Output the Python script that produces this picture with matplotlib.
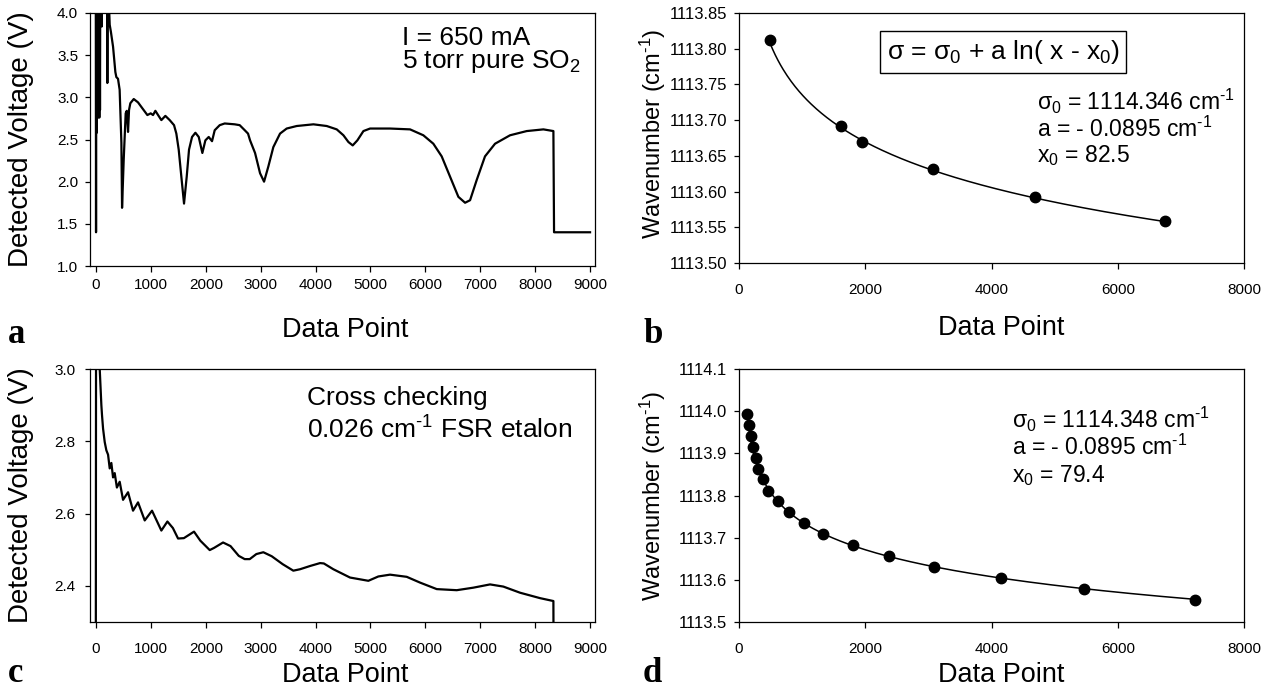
import numpy as np
import matplotlib
matplotlib.use('Agg')
import matplotlib.pyplot as plt

plt.rcParams['font.family'] = ['Liberation Sans', 'DejaVu Sans']
plt.rcParams['mathtext.fontset'] = 'custom'
plt.rcParams['mathtext.rm'] = 'Liberation Sans'
plt.rcParams['mathtext.it'] = 'Liberation Sans'
plt.rcParams['mathtext.default'] = 'regular'

# panel a: detected voltage vs data point (SO2 absorption scan)
a_x = [-5, 0, 5, 12, 18, 24, 30, 36, 42, 48, 54, 60, 66, 72, 78, 100, 104, 108,
       200, 206, 212, 230, 249, 270, 310, 352, 370, 400, 430, 462, 474, 504, 540,
       560, 583, 601, 625, 687, 765, 844, 935, 996, 1038, 1081, 1130, 1190, 1263,
       1342, 1421, 1463, 1506, 1554, 1603, 1652, 1694, 1749, 1810, 1871, 1937,
       1992, 2053, 2113, 2162, 2253, 2344, 2526, 2617, 2709, 2769, 2806, 2897,
       2988, 3061, 3139, 3230, 3352, 3473, 3656, 3960, 4202, 4385, 4507, 4598,
       4676, 4761, 4871, 4992, 5356, 5721, 5963, 6145, 6297, 6449, 6601, 6723,
       6814, 6935, 7086, 7269, 7542, 7846, 8150, 8332, 8344, 9000]
a_v = [4.6, 1.40, 4.6, 2.58, 4.6, 2.78, 4.6, 2.76, 4.6, 2.80, 4.6, 2.76, 4.6, 2.85,
       4.6, 4.6, 3.84, 4.6, 4.6, 3.17, 4.6, 4.2, 3.86, 3.78, 3.60, 3.30, 3.24,
       3.22, 3.09, 2.46, 1.69, 2.26, 2.81, 2.84, 2.59, 2.85, 2.93, 2.98, 2.94,
       2.87, 2.79, 2.81, 2.79, 2.84, 2.79, 2.73, 2.78, 2.73, 2.67, 2.57, 2.38,
       2.06, 1.74, 2.06, 2.38, 2.53, 2.58, 2.53, 2.34, 2.49, 2.53, 2.48, 2.61,
       2.67, 2.69, 2.68, 2.67, 2.61, 2.57, 2.49, 2.34, 2.10, 2.00, 2.18, 2.41,
       2.57, 2.63, 2.66, 2.68, 2.66, 2.62, 2.55, 2.47, 2.43, 2.49, 2.60, 2.63,
       2.63, 2.62, 2.55, 2.45, 2.30, 2.06, 1.82, 1.75, 1.78, 2.02, 2.30, 2.45,
       2.55, 2.60, 2.62, 2.60, 1.40, 1.40]

# panel c: etalon cross check trace
c_x = [-5, 2, 60, 67, 97, 109, 128, 158, 188, 219, 249, 279, 310, 340, 380, 431,
       492, 583, 674, 765, 887, 1020, 1190, 1300, 1400, 1494, 1600, 1785, 1900,
       2071, 2150, 2314, 2450, 2600, 2708, 2800, 2921, 3048, 3200, 3400, 3594,
       3717, 3900, 4081, 4150, 4323, 4627, 4961, 5143, 5356, 5660, 5903, 6207,
       6571, 6874, 7178, 7420, 7725, 8089, 8332, 8340]
c_v = [2.0, 3.5, 3.02, 3.0, 2.90, 2.872, 2.835, 2.798, 2.775, 2.763, 2.725, 2.740,
       2.700, 2.712, 2.672, 2.688, 2.638, 2.659, 2.608, 2.631, 2.581, 2.608,
       2.553, 2.578, 2.560, 2.531, 2.532, 2.550, 2.525, 2.499, 2.505, 2.520,
       2.510, 2.483, 2.474, 2.474, 2.488, 2.493, 2.482, 2.460, 2.442, 2.446,
       2.455, 2.463, 2.462, 2.446, 2.423, 2.414, 2.426, 2.431, 2.425, 2.409,
       2.391, 2.388, 2.395, 2.404, 2.398, 2.381, 2.366, 2.358, 2.0]

# panel b: wavenumber of absorption lines
b_x = [491, 1616, 1953, 3078, 4694, 6753]
b_w = [1113.812, 1113.692, 1113.670, 1113.631, 1113.592, 1113.559]
b_sigma0, b_a, b_x0 = 1114.346, -0.0895, 82.5

# panel d: wavenumber of etalon fringes
d_x = [132, 153, 195, 222, 264, 306, 380, 465, 613, 792, 1030, 1325, 1801, 2382,
       3084, 4146, 5460, 7229]
d_w = [1113.993, 1113.967, 1113.942, 1113.916, 1113.890, 1113.863, 1113.838,
       1113.811, 1113.786, 1113.760, 1113.734, 1113.708, 1113.682, 1113.656,
       1113.630, 1113.605, 1113.579, 1113.553]
d_sigma0, d_a, d_x0 = 1114.348, -0.0895, 79.4

W, H = 1277, 690
fig = plt.figure(figsize=(W / 100, H / 100), dpi=100)
inv_cm = 'cm$^{\\text{-1}}$'


def axes_px(l, t, r, b):
    return fig.add_axes([l / W, 1 - b / H, (r - l) / W, (b - t) / H])


def style(ax, xpad, ypad, ysize=11):
    for s in ax.spines.values():
        s.set_linewidth(0.9)
    ax.tick_params(axis='x', direction='out', length=4.5, width=0.9,
                   labelsize=11, pad=xpad, top=False)
    ax.tick_params(axis='y', direction='out', length=3.5, width=0.9,
                   labelsize=ysize, pad=ypad, right=False)


ax_a = axes_px(90, 13, 595, 266)
ax_b = axes_px(739, 13, 1244, 263)
ax_c = axes_px(90, 369, 595, 622)
ax_d = axes_px(739, 369, 1244, 622)

# panel a
ax_a.plot(a_x, a_v, color='black', lw=1.6)
ax_a.set_xlim(-110, 9090)
ax_a.set_ylim(1.0, 4.0)
ax_a.set_xticks(np.arange(0, 9001, 1000))
ax_a.set_yticks(np.arange(1.0, 4.01, 0.5))
ax_a.yaxis.set_major_formatter(matplotlib.ticker.FormatStrFormatter('%.1f'))
style(ax_a, 4, 5)
ax_a.set_xlabel('Data Point', fontsize=19.5, va='baseline')
ax_a.xaxis.set_label_coords(0.505, -0.281)
ax_a.set_ylabel('Detected Voltage (V)', fontsize=20, va='center')
ax_a.yaxis.set_label_coords(-0.137, 0.5)
ax_a.text(0.617, 0.8735, 'I = 650 mA', transform=ax_a.transAxes, fontsize=19,
          va='baseline')
ax_a.text(0.617, 0.781, '5 torr pure SO$_2$', transform=ax_a.transAxes,
          fontsize=19, va='baseline')

# panel c
ax_c.plot(c_x, c_v, color='black', lw=1.6)
ax_c.set_xlim(-110, 9090)
ax_c.set_ylim(2.3, 3.0)
ax_c.set_xticks(np.arange(0, 9001, 1000))
ax_c.set_yticks([2.4, 2.6, 2.8, 3.0])
ax_c.yaxis.set_major_formatter(matplotlib.ticker.FormatStrFormatter('%.1f'))
style(ax_c, 10, 7)
ax_c.set_xlabel('Data Point', fontsize=19.5, va='baseline')
ax_c.xaxis.set_label_coords(0.505, -0.237)
ax_c.set_ylabel('Detected Voltage (V)', fontsize=20, va='center')
ax_c.yaxis.set_label_coords(-0.137, 0.5)
ax_c.text(0.429, 0.858, 'Cross checking', transform=ax_c.transAxes,
          fontsize=19, va='baseline')
ax_c.text(0.429, 0.726, '0.026 ' + inv_cm + ' FSR etalon', transform=ax_c.transAxes,
          fontsize=19, va='baseline')

# panel b
fit_bx = np.linspace(b_x[0], b_x[-1], 300)
ax_b.plot(fit_bx, b_sigma0 + b_a * np.log(fit_bx - b_x0), color='black', lw=1.1)
ax_b.plot(b_x, b_w, 'o', color='black', ms=7.5)
ax_b.set_xlim(0, 8000)
ax_b.set_ylim(1113.50, 1113.85)
ax_b.set_xticks(np.arange(0, 8001, 2000))
ax_b.set_yticks(np.arange(1113.50, 1113.851, 0.05))
ax_b.yaxis.set_major_formatter(matplotlib.ticker.FormatStrFormatter('%.2f'))
style(ax_b, 10, 5, ysize=12)
ax_b.set_xlabel('Data Point', fontsize=19.5, va='baseline')
ax_b.xaxis.set_label_coords(0.52, -0.288)
ax_b.set_ylabel('Wavenumber (' + inv_cm + ')', fontsize=17, va='center')
ax_b.yaxis.set_label_coords(-0.170, 0.516)
ax_b.text(0.523, 0.844, 'σ = σ$_0$ + a ln( x - x$_0$)', transform=ax_b.transAxes,
          fontsize=19, ha='center', va='center',
          bbox=dict(boxstyle='square,pad=0.25', fc='white', ec='black', lw=1))
b_lines = ['σ$_0$ = %.3f ' % b_sigma0 + inv_cm,
           'a = - %.4f ' % abs(b_a) + inv_cm,
           'x$_0$ = %.1f' % b_x0]
for txt, yy in zip(b_lines, [0.612, 0.505, 0.405]):
    ax_b.text(0.5895, yy, txt, transform=ax_b.transAxes, fontsize=16.5,
              va='baseline')

# panel d
fit_dx = np.linspace(d_x[0], d_x[-1], 300)
ax_d.plot(fit_dx, d_sigma0 + d_a * np.log(fit_dx - d_x0), color='black', lw=1.1)
ax_d.plot(d_x, d_w, 'o', color='black', ms=7.5)
ax_d.set_xlim(0, 8000)
ax_d.set_ylim(1113.5, 1114.1)
ax_d.set_xticks(np.arange(0, 8001, 2000))
ax_d.set_yticks(np.arange(1113.5, 1114.11, 0.1))
ax_d.yaxis.set_major_formatter(matplotlib.ticker.FormatStrFormatter('%.1f'))
style(ax_d, 10, 5, ysize=12)
ax_d.set_xlabel('Data Point', fontsize=19.5, va='baseline')
ax_d.xaxis.set_label_coords(0.52, -0.237)
ax_d.set_ylabel('Wavenumber (' + inv_cm + ')', fontsize=17, va='center')
ax_d.yaxis.set_label_coords(-0.170, 0.5)
d_lines = ['σ$_0$ = %.3f ' % d_sigma0 + inv_cm,
           'a = - %.4f ' % abs(d_a) + inv_cm,
           'x$_0$ = %.1f' % d_x0]
for txt, yy in zip(d_lines, [0.7656, 0.660, 0.5545]):
    ax_d.text(0.540, yy, txt, transform=ax_d.transAxes, fontsize=16.5,
              va='baseline')

# panel letters
for letter, px, py in [('a', 8, 343), ('b', 643, 343), ('c', 8, 682), ('d', 643, 682)]:
    fig.text(px / W, 1 - py / H, letter, fontsize=25, fontweight='bold',
             family='Liberation Serif', va='baseline')

fig.savefig('out.png', dpi=100)
